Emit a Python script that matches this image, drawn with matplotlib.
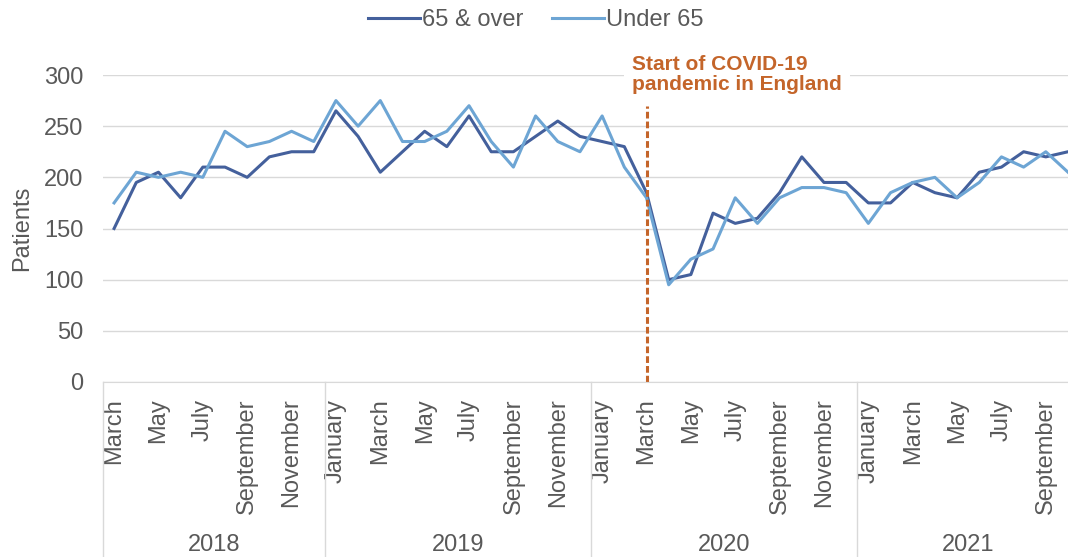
import matplotlib.pyplot as plt

plt.rcParams['font.family'] = ['Liberation Sans', 'DejaVu Sans']

# monthly categories, March 2018 to October 2021
months = ['March', 'April', 'May', 'June', 'July', 'August', 'September', 'October', 'November', 'December',
          'January', 'February', 'March', 'April', 'May', 'June', 'July', 'August', 'September', 'October', 'November', 'December',
          'January', 'February', 'March', 'April', 'May', 'June', 'July', 'August', 'September', 'October', 'November', 'December',
          'January', 'February', 'March', 'April', 'May', 'June', 'July', 'August', 'September', 'October']
year_labels = ['2018', '2019', '2020', '2021']
year_lengths = [10, 12, 12, 10]

over_65 = [150, 195, 205, 180, 210, 210, 200, 220, 225, 225,
           265, 240, 205, 225, 245, 230, 260, 225, 225, 240, 255, 240,
           235, 230, 185, 100, 105, 165, 155, 160, 185, 220, 195, 195,
           175, 175, 195, 185, 180, 205, 210, 225, 220, 225]
under_65 = [175, 205, 200, 205, 200, 245, 230, 235, 245, 235,
            275, 250, 275, 235, 235, 245, 270, 235, 210, 260, 235, 225,
            260, 210, 180, 95, 120, 130, 180, 155, 180, 190, 190, 185,
            155, 185, 195, 200, 180, 195, 220, 210, 225, 205]

covid_start = 24  # March 2020
note = 'Start of COVID-19\npandemic in England'

grey = '#595959'
light = '#D9D9D9'
orange = '#C4652A'

W, H = 1068, 557
fig = plt.figure(figsize=(W / 100, H / 100), dpi=100)
ax = fig.add_axes([103 / W, 1 - 382 / H, 1 - 103 / W, 307 / H])

x = list(range(len(months)))
l1, = ax.plot(x, over_65, color='#44609C', lw=2.2, label='65 & over')
l2, = ax.plot(x, under_65, color='#6DA5D4', lw=2.2, label='Under 65')

ax.set_ylim(0, 300)
ax.set_yticks(range(0, 301, 50))
ax.set_xlim(-0.5, 43)
ax.grid(axis='y', color=light, lw=1)
ax.set_axisbelow(True)
for s in ['left', 'top', 'right']:
    ax.spines[s].set_visible(False)
ax.spines['bottom'].set_color(light)

ax.set_xticks(x[::2])
ax.set_xticklabels(months[::2], rotation=90, va='top', ha='center')
ax.tick_params(axis='x', length=0, pad=12, labelsize=17, labelcolor=grey)
ax.tick_params(axis='y', length=0, pad=14, labelsize=17, labelcolor=grey)

# year group separators and labels under the month labels
trans = ax.get_xaxis_transform()
start = -0.5
for yl, n in zip(year_labels, year_lengths):
    ax.plot([start, start], [0, -0.6], transform=trans, color=light, lw=1, clip_on=False)
    ax.text(start + n / 2, -0.531, yl, transform=trans, ha='center', va='center',
            fontsize=17, color=grey)
    start += n

# pandemic marker
ax.plot([covid_start, covid_start], [0, 270], color=orange, lw=2.2, ls=(0, (2.2, 1.0)))
ax.text(23.35, 320, note, ha='left', va='top', fontsize=15, fontweight='bold',
        color=orange, linespacing=1.1,
        bbox=dict(facecolor='white', edgecolor='none', pad=6))

fig.text(22 / W, 1 - 228 / H, 'Patients', rotation=90, ha='center', va='center',
         fontsize=17, color=grey)

fig.legend(handles=[l1, l2], loc='center', bbox_to_anchor=(536 / W, 1 - 20 / H),
           ncol=2, frameon=False, handlelength=2.2, handletextpad=0.1,
           columnspacing=1.2, fontsize=17, labelcolor=grey)

fig.savefig('out.png', dpi=100)
